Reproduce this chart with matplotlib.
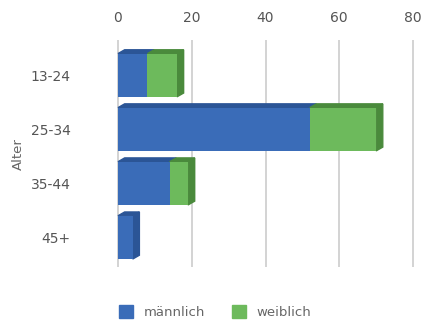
import matplotlib.pyplot as plt
from matplotlib.patches import Polygon, Patch

# Altersgruppen und Anzahl nach Geschlecht
gruppen = ["13-24", "25-34", "35-44", "45+"]
maennlich = [8, 52, 14, 4]
weiblich = [8, 18, 5, 0]
ticks = [0, 20, 40, 60, 80]

blau = "#3a6cb8"
blau_dunkel = "#2b5596"
gruen = "#6dba5c"
gruen_dunkel = "#4a8a3c"

fig = plt.figure(figsize=(4.22, 3.23), dpi=100)
ax = fig.add_axes([0.2097, 0.173, 0.7865, 0.703])

pos = list(range(len(gruppen)))
h = 0.8
dx, dy = 1.8, 0.07  # Tiefe fuer den 3D-Look

for i, y in enumerate(pos):
    m = maennlich[i]
    w = weiblich[i]
    ax.barh(y, m, height=h, left=0, color=blau, zorder=3)
    ax.barh(y, w, height=h, left=m, color=gruen, zorder=3)
    top = y - h / 2
    # Oberseite der Balken
    if m > 0:
        ax.add_patch(Polygon([(0, top), (m, top), (m + dx, top - dy), (dx, top - dy)],
                             closed=True, color=blau_dunkel, zorder=2))
    if w > 0:
        ax.add_patch(Polygon([(m, top), (m + w, top), (m + w + dx, top - dy), (m + dx, top - dy)],
                             closed=True, color=gruen_dunkel, zorder=2))
    # rechte Seitenflaeche
    end = m + w
    seite = gruen_dunkel if w > 0 else blau_dunkel
    ax.add_patch(Polygon([(end, top), (end + dx, top - dy), (end + dx, top + h - dy), (end, top + h)],
                         closed=True, color=seite, zorder=2))

ax.set_xlim(-8, 82)
ax.set_ylim(3.55, -0.65)
ax.set_xticks(ticks)
ax.xaxis.tick_top()
ax.tick_params(axis="x", length=0, pad=11, labelsize=10, labelcolor="#555555")
ax.set_yticks(pos)
ax.set_yticklabels(gruppen)
ax.tick_params(axis="y", length=0, pad=13, labelsize=10, labelcolor="#555555")
ax.grid(axis="x", color="#d0d0d0", linewidth=1.3, zorder=0)
ax.set_axisbelow(True)
for s in ax.spines.values():
    s.set_visible(False)
ax.set_ylabel("Alter", color="#666666", fontsize=9.5, labelpad=4)

handles = [Patch(color=blau, label="männlich"), Patch(color=gruen, label="weiblich")]
fig.legend(handles=handles, loc="lower center", bbox_to_anchor=(0.51, -0.025), ncol=2,
           frameon=False, handlelength=1.1, handleheight=1.1, columnspacing=2,
           fontsize=9.5, labelcolor="#666666")

fig.savefig("out.png", dpi=100)
